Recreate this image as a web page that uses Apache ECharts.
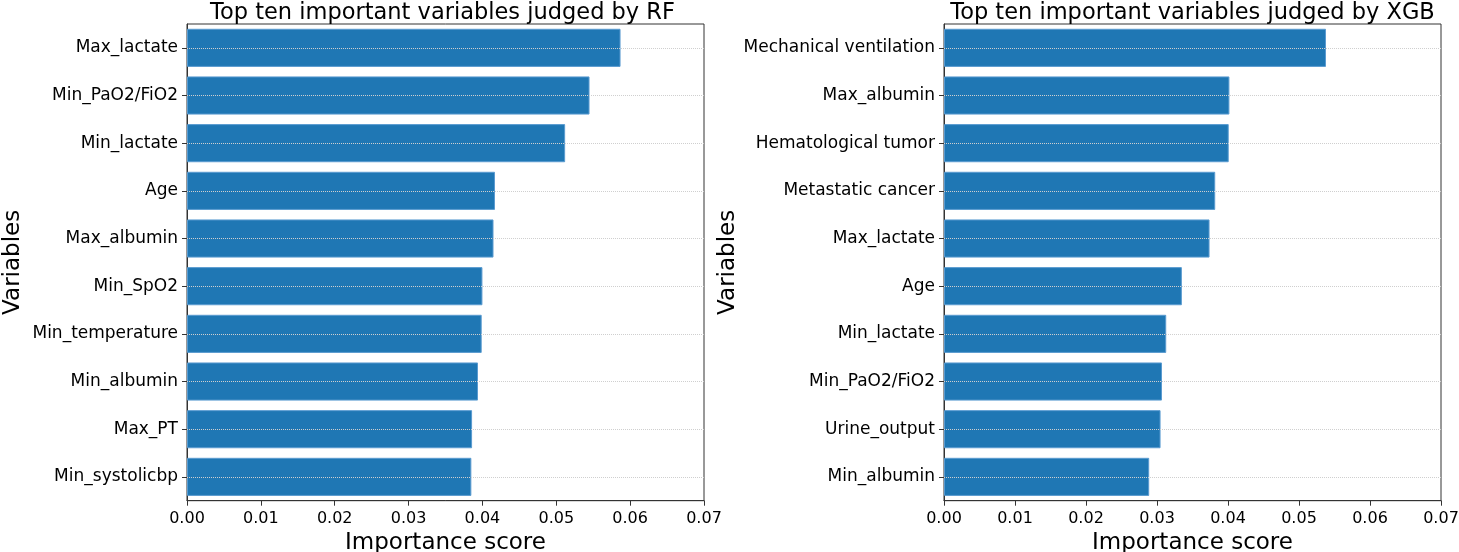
<!DOCTYPE html>
<html><head><meta charset="utf-8">
<script src="https://cdn.jsdelivr.net/npm/echarts@6/dist/echarts.min.js"></script>
<style>html,body{margin:0;padding:0;background:#fff}#c{width:1459px;height:552px}</style>
</head><body><div id="c"></div>
<script>
const rfTitle = 'Top ten important variables judged by RF';
const xgbTitle = 'Top ten important variables judged by XGB';
const rfVariables = ['Max_lactate','Min_PaO2/FiO2','Min_lactate','Age','Max_albumin','Min_SpO2','Min_temperature','Min_albumin','Max_PT','Min_systolicbp'];
const rfScores = [0.0587,0.0545,0.0512,0.0417,0.0415,0.0400,0.0399,0.0394,0.0386,0.0385];
const xgbVariables = ['Mechanical ventilation','Max_albumin','Hematological tumor','Metastatic cancer','Max_lactate','Age','Min_lactate','Min_PaO2/FiO2','Urine_output','Min_albumin'];
const xgbScores = [0.0538,0.0402,0.0401,0.0382,0.0374,0.0335,0.0313,0.0307,0.0305,0.0289];
const xAxisName = 'Importance score';
const yAxisName = 'Variables';

const FONT = 'DejaVu Sans';
const chart = echarts.init(document.getElementById('c'), null, {renderer:'canvas'});

const grids = [
  {left:187, top:24, width:517, height:476.7},
  {left:944, top:24, width:497, height:476.7}
];

function xAxis(i){
  return {
    type:'value', gridIndex:i, min:0, max:0.07, interval:0.01,
    name:xAxisName, nameLocation:'middle', nameGap:29,
    nameTextStyle:{fontFamily:FONT, fontSize:23, color:'#000'},
    axisLine:{show:true, lineStyle:{color:'#333', width:1}},
    axisTick:{show:true, length:5, lineStyle:{color:'#333'}},
    axisLabel:{fontFamily:FONT, fontSize:16, color:'#000', margin:10, formatter:v=>v.toFixed(2)},
    splitLine:{show:false}
  };
}
function yAxis(i, cats, gap){
  return {
    type:'category', gridIndex:i, data:cats, inverse:true,
    name:yAxisName, nameLocation:'middle', nameGap:gap, nameRotate:90,
    nameTextStyle:{fontFamily:FONT, fontSize:23, color:'#000'},
    axisLine:{show:true, lineStyle:{color:'#333', width:1}},
    axisTick:{show:true, length:5, alignWithLabel:true, lineStyle:{color:'#333'}},
    axisLabel:{fontFamily:FONT, fontSize:17, color:'#000', margin:9},
    splitLine:{show:false}
  };
}
function series(i, cats, vals){
  return {
    type:'bar', xAxisIndex:i, yAxisIndex:i, data:vals, barWidth:'80%',
    itemStyle:{color:'#1f77b4', borderColor:'#5a9bd0', borderWidth:1},
    emphasis:{disabled:true},
    markLine:{silent:true, symbol:'none', label:{show:false}, animation:false,
      lineStyle:{type:'dotted', color:'#cfcfcf', width:1},
      data:cats.map(c=>({yAxis:c}))}
  };
}

chart.setOption({
  animation:false,
  backgroundColor:'#fff',
  title:[
    {text:rfTitle, left:grids[0].left+grids[0].width/2 - 3, top:2, textAlign:'center', padding:0,
     textStyle:{fontFamily:FONT, fontSize:22.5, fontWeight:'normal', color:'#000'}},
    {text:xgbTitle, left:grids[1].left+grids[1].width/2, top:2, textAlign:'center', padding:0,
     textStyle:{fontFamily:FONT, fontSize:22.5, fontWeight:'normal', color:'#000'}}
  ],
  grid:grids.map(g=>Object.assign({show:true, borderColor:'#333', borderWidth:1, backgroundColor:'transparent', containLabel:false, outerBoundsMode:'none'}, g)),
  xAxis:[xAxis(0), xAxis(1)],
  yAxis:[yAxis(0, rfVariables, 162), yAxis(1, xgbVariables, 199)],
  series:[series(0, rfVariables, rfScores), series(1, xgbVariables, xgbScores)]
});
</script></body></html>
